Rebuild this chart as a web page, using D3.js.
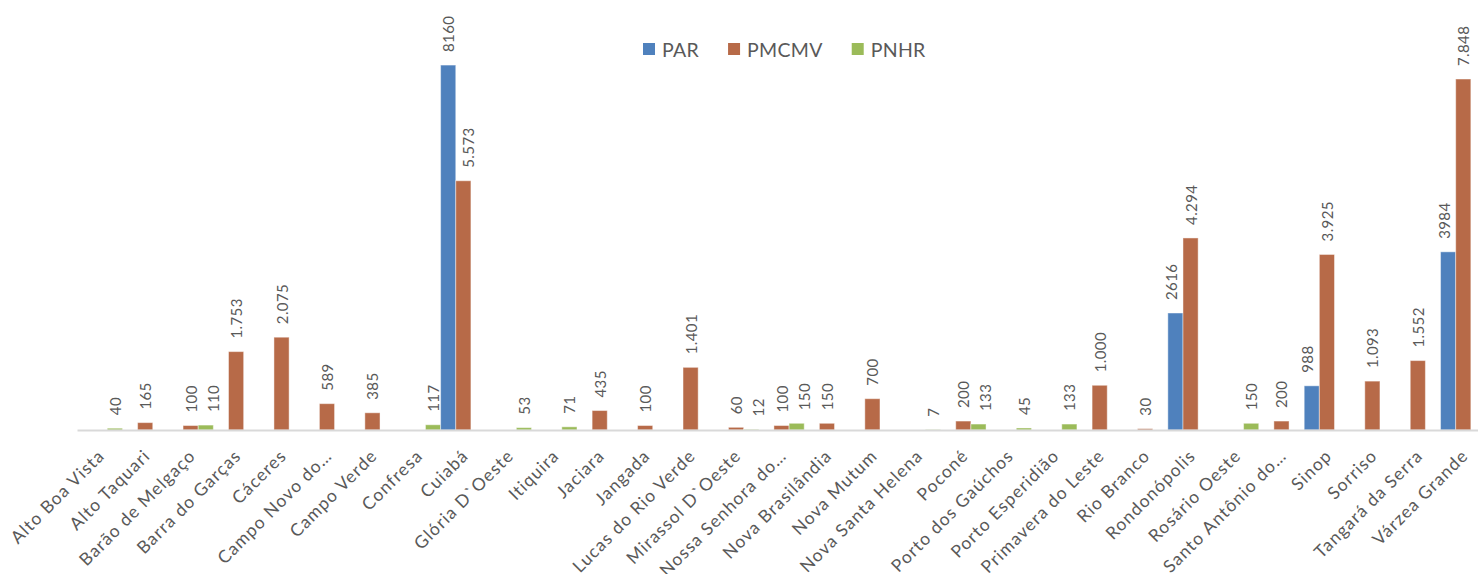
<!DOCTYPE html>
<html>
<head>
<meta charset="utf-8">
<script src="https://cdn.jsdelivr.net/npm/d3@7"></script>
<style>
  body { margin: 0; background: #fff; }
  text { font-family: "Century Gothic", Lato, sans-serif; fill: #595959; }
</style>
</head>
<body>
<div id="chart"></div>
<script>
// DATA
const categories = [
  "Alto Boa Vista", "Alto Taquari", "Barão de Melgaço", "Barra do Garças", "Cáceres",
  "Campo Novo do…", "Campo Verde", "Confresa", "Cuiabá", "Glória D`Oeste",
  "Itiquira", "Jaciara", "Jangada", "Lucas do Rio Verde", "Mirassol D`Oeste",
  "Nossa Senhora do…", "Nova Brasilândia", "Nova Mutum", "Nova Santa Helena", "Poconé",
  "Porto dos Gaúchos", "Porto Esperidião", "Primavera do Leste", "Rio Branco", "Rondonópolis",
  "Rosário Oeste", "Santo Antônio do…", "Sinop", "Sorriso", "Tangará da Serra",
  "Várzea Grande"
];
const seriesNames = ["PAR", "PMCMV", "PNHR"];
const parValues = [
  null, null, null, null, null, null, null, null, 8160, null,
  null, null, null, null, null, null, null, null, null, null,
  null, null, null, null, 2616, null, null, 988, null, null,
  3984
];
const pmcmvValues = [
  null, 165, 100, 1753, 2075, 589, 385, null, 5573, null,
  null, 435, 100, 1401, 60, 100, 150, 700, null, 200,
  null, null, 1000, 30, 4294, null, 200, 3925, 1093, 1552,
  7848
];
const pnhrValues = [
  40, null, 110, null, null, null, null, 117, null, 53,
  71, null, null, null, 12, 150, null, null, 7, 133,
  45, 133, null, null, null, 150, null, null, null, null,
  null
];
const colors = ["#4F81BD", "#B76A48", "#9BBB59"];

const width = 1478;
const height = 574;
const margin = { left: 77, right: -8, top: 27.5, bottom: 144 };
const baseY = height - margin.bottom; // 430

const ptBR = d3.formatLocale({ decimal: ",", thousands: ".", grouping: [3], currency: ["R$", ""] });
const formats = [d3.format("d"), ptBR.format(",d"), d3.format("d")];

const allSeries = [parValues, pmcmvValues, pnhrValues];

const svg = d3.select("#chart")
  .append("svg")
  .attr("width", width)
  .attr("height", height);

const x0 = d3.scaleBand()
  .domain(categories)
  .range([margin.left, width - margin.right])
  .paddingInner(0)
  .paddingOuter(0);

const x1 = d3.scaleBand()
  .domain(seriesNames)
  .range([0, x0.bandwidth()])
  .padding(0);

const y = d3.scaleLinear()
  .domain([0, 9000])
  .range([baseY, margin.top]);

// build bar records
const bars = [];
categories.forEach((c, i) => {
  seriesNames.forEach((s, k) => {
    const v = allSeries[k][i];
    if (v == null) return;
    bars.push({ cat: c, ci: i, series: s, k: k, value: v });
  });
});

// bars
svg.append("g")
  .selectAll("rect")
  .data(bars)
  .join("rect")
  .attr("x", (d) => x0(d.cat) + x1(d.series))
  .attr("y", (d) => y(d.value))
  .attr("width", x1.bandwidth())
  .attr("height", (d) => baseY - y(d.value))
  .attr("fill", (d) => colors[d.k])
  .attr("stroke", "#fff")
  .attr("stroke-opacity", 0.45)
  .attr("stroke-width", 1);

// axis line
const xAxis = d3.axisBottom(x0).tickSize(0).tickFormat("");
const axisG = svg.append("g")
  .attr("transform", `translate(0,${baseY})`)
  .call(xAxis);
axisG.select(".domain").attr("stroke", "#d9d9d9").attr("stroke-width", 2);

// category labels
svg.append("g")
  .selectAll("text")
  .data(categories)
  .join("text")
  .attr("transform", (d) => `translate(${x0(d) + x0.bandwidth() / 2 + 6},${baseY + 27}) rotate(-45)`)
  .attr("text-anchor", "end")
  .style("font-size", "17.5px")
  .style("letter-spacing", "1.1px")
  .text((d) => d);

// value labels
const labelGap = 13;
const labelsG = svg.append("g");
const labels = labelsG.selectAll("text")
  .data(bars)
  .join("text")
  .style("font-size", "15px")
  .style("letter-spacing", "0.4px")
  .attr("text-anchor", "start")
  .attr("dominant-baseline", "central")
  .text((d) => formats[d.k](d.value));

labels.each(function (d) {
  d.len = this.getComputedTextLength();
  d.lx = x0(d.cat) + x1(d.series) + x1.bandwidth() / 2;
  d.bottom = y(d.value) - labelGap;
  d.top = d.bottom - d.len;
});

// keep labels off taller neighbouring bars of the same group
const halfBox = 12;
bars.forEach((d) => {
  bars.forEach((o) => {
    if (o === d || o.ci !== d.ci) return;
    if (y(o.value) >= d.bottom) return;
    const left = x0(o.cat) + x1(o.series);
    const right = left + x1.bandwidth();
    if (o.k < d.k) d.lx = Math.max(d.lx, right + halfBox);
    else d.lx = Math.min(d.lx, left - halfBox);
  });
});

// push overlapping labels apart
const minSpace = 22;
const sorted = bars.slice().sort((a, b) => a.lx - b.lx);
for (let i = 1; i < sorted.length; i++) {
  const a = sorted[i - 1];
  const b = sorted[i];
  const vOverlap = a.top < b.bottom && b.top < a.bottom;
  if (vOverlap && b.lx - a.lx < minSpace) b.lx = a.lx + minSpace;
}

labels.attr("transform", (d) => `translate(${d.lx},${d.bottom}) rotate(-90)`);

// legend
const legend = svg.append("g");
let lx = 643;
seriesNames.forEach((s, k) => {
  legend.append("rect")
    .attr("x", lx)
    .attr("y", 43)
    .attr("width", 12)
    .attr("height", 12)
    .attr("fill", colors[k]);
  const t = legend.append("text")
    .attr("x", lx + 19)
    .attr("y", 56.5)
    .style("font-size", "19.5px")
    .style("letter-spacing", "0.3px")
    .text(s);
  lx += 19 + t.node().getComputedTextLength() + 29;
});
</script>
</body>
</html>
